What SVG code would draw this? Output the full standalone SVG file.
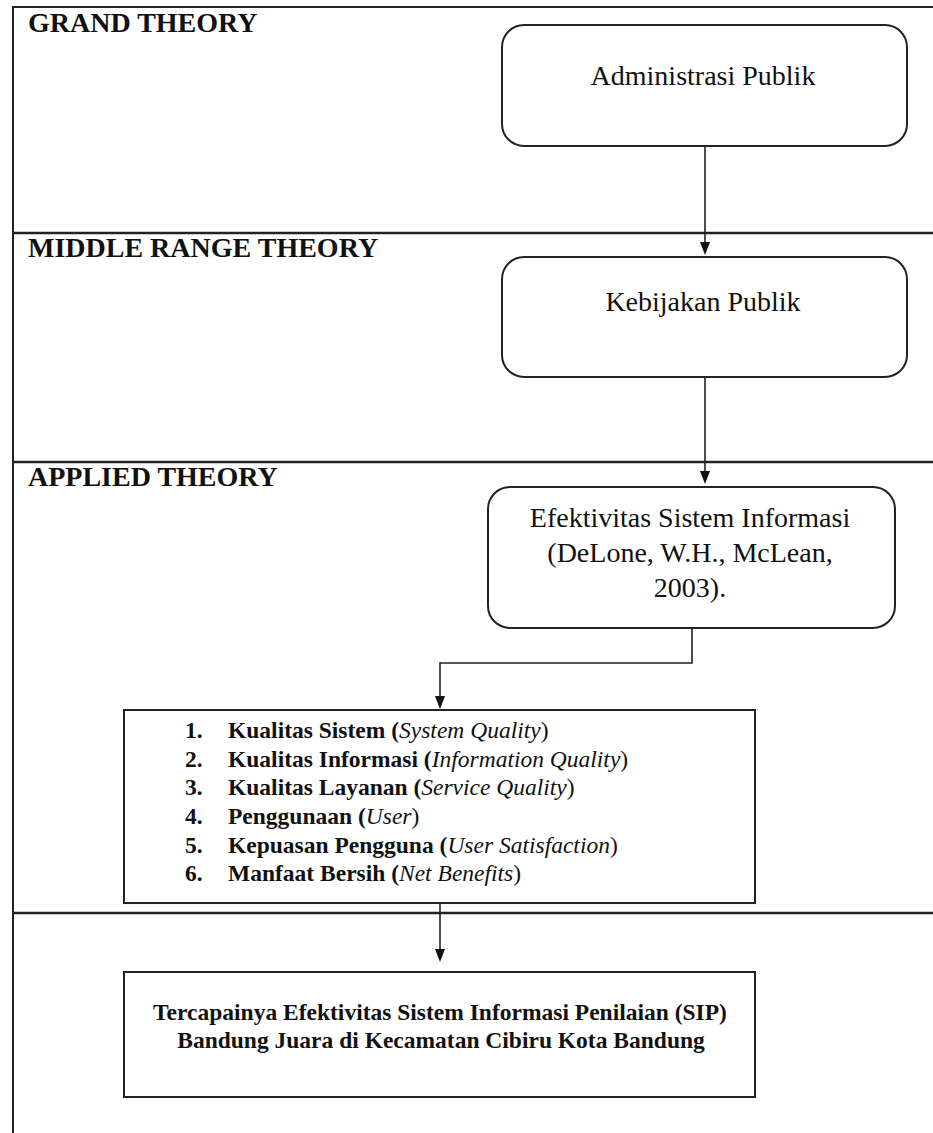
<svg xmlns="http://www.w3.org/2000/svg" width="933" height="1133" viewBox="0 0 933 1133">
<style>
.frame{fill:none;stroke:#222;stroke-width:2}
.sep{fill:none;stroke:#222;stroke-width:2.5}
.box{fill:#fff;stroke:#222;stroke-width:2}
.conn{fill:none;stroke:#222;stroke-width:1.6}
.ah{fill:#111}
.head{font-family:"Liberation Serif","Times New Roman",serif;font-size:28px;font-weight:bold;fill:#111}
.t{font-family:"Liberation Serif","Times New Roman",serif;font-size:28px;fill:#111;text-anchor:middle}
.li{font-family:"Liberation Serif","Times New Roman",serif;font-size:23.5px;font-weight:bold;fill:#111}
.it{font-style:italic;font-weight:normal}
.nb{font-weight:normal}
.fin{font-family:"Liberation Serif","Times New Roman",serif;font-size:23.5px;font-weight:bold;fill:#111;text-anchor:middle}
</style>
<rect width="933" height="1133" fill="#fff"/>
<g id="frame">
<path class="frame" d="M13,1133 L13,7 L933,7"/>
<path class="sep" d="M13,233 L933,233"/>
<path class="sep" d="M13,462 L933,462"/>
<path class="sep" d="M13,913 L933,913"/>
<text class="head" x="28" y="32">GRAND THEORY</text>
<text class="head" x="28" y="257">MIDDLE RANGE THEORY</text>
<text class="head" x="28" y="486">APPLIED THEORY</text>
</g>
<g id="connectors">
<path class="conn" d="M705,146 L705,243"/>
<path class="ah" d="M700,242 L710,242 L705,255 Z"/>
<path class="conn" d="M705,377 L705,472"/>
<path class="ah" d="M700,471 L710,471 L705,484 Z"/>
<path class="conn" d="M692,628 L692,663 L440,663 L440,697"/>
<path class="ah" d="M435,696 L445,696 L440,709 Z"/>
<path class="conn" d="M440,900 L440,950"/>
<path class="ah" d="M435,949 L445,949 L440,962 Z"/>
</g>
<g id="node-administrasi">
<rect class="box" x="502" y="25" width="405" height="121" rx="22"/>
<text class="t" x="703" y="85">Administrasi Publik</text>
</g>
<g id="node-kebijakan">
<rect class="box" x="502" y="257" width="405" height="120" rx="22"/>
<text class="t" x="703" y="311">Kebijakan Publik</text>
</g>
<g id="node-efektivitas">
<rect class="box" x="488" y="487" width="407" height="141" rx="22"/>
<text class="t" x="690" y="527">Efektivitas Sistem Informasi</text>
<text class="t" x="690" y="562">(DeLone, W.H., McLean,</text>
<text class="t" x="690" y="597">2003).</text>
</g>
<g id="node-dimensi">
<rect class="box" x="124" y="710" width="631" height="193"/>
<text class="li" x="185" y="738">1.</text>
<text class="li" x="228" y="738">Kualitas Sistem (<tspan class="it">System Quality</tspan><tspan class="nb">)</tspan></text>
<text class="li" x="185" y="767">2.</text>
<text class="li" x="228" y="767">Kualitas Informasi (<tspan class="it">Information Quality</tspan><tspan class="nb">)</tspan></text>
<text class="li" x="185" y="795">3.</text>
<text class="li" x="228" y="795">Kualitas Layanan (<tspan class="it">Service Quality</tspan><tspan class="nb">)</tspan></text>
<text class="li" x="185" y="824">4.</text>
<text class="li" x="228" y="824">Penggunaan (<tspan class="it">User</tspan><tspan class="nb">)</tspan></text>
<text class="li" x="185" y="853">5.</text>
<text class="li" x="228" y="853">Kepuasan Pengguna (<tspan class="it">User Satisfaction</tspan><tspan class="nb">)</tspan></text>
<text class="li" x="185" y="881">6.</text>
<text class="li" x="228" y="881">Manfaat Bersih (<tspan class="it">Net Benefits</tspan><tspan class="nb">)</tspan></text>
</g>
<g id="node-tercapai">
<rect class="box" x="124" y="972" width="631" height="125"/>
<text class="fin" x="440" y="1020">Tercapainya Efektivitas Sistem Informasi Penilaian (SIP)</text>
<text class="fin" x="441" y="1048">Bandung Juara di Kecamatan Cibiru Kota Bandung</text>
</g>
</svg>
